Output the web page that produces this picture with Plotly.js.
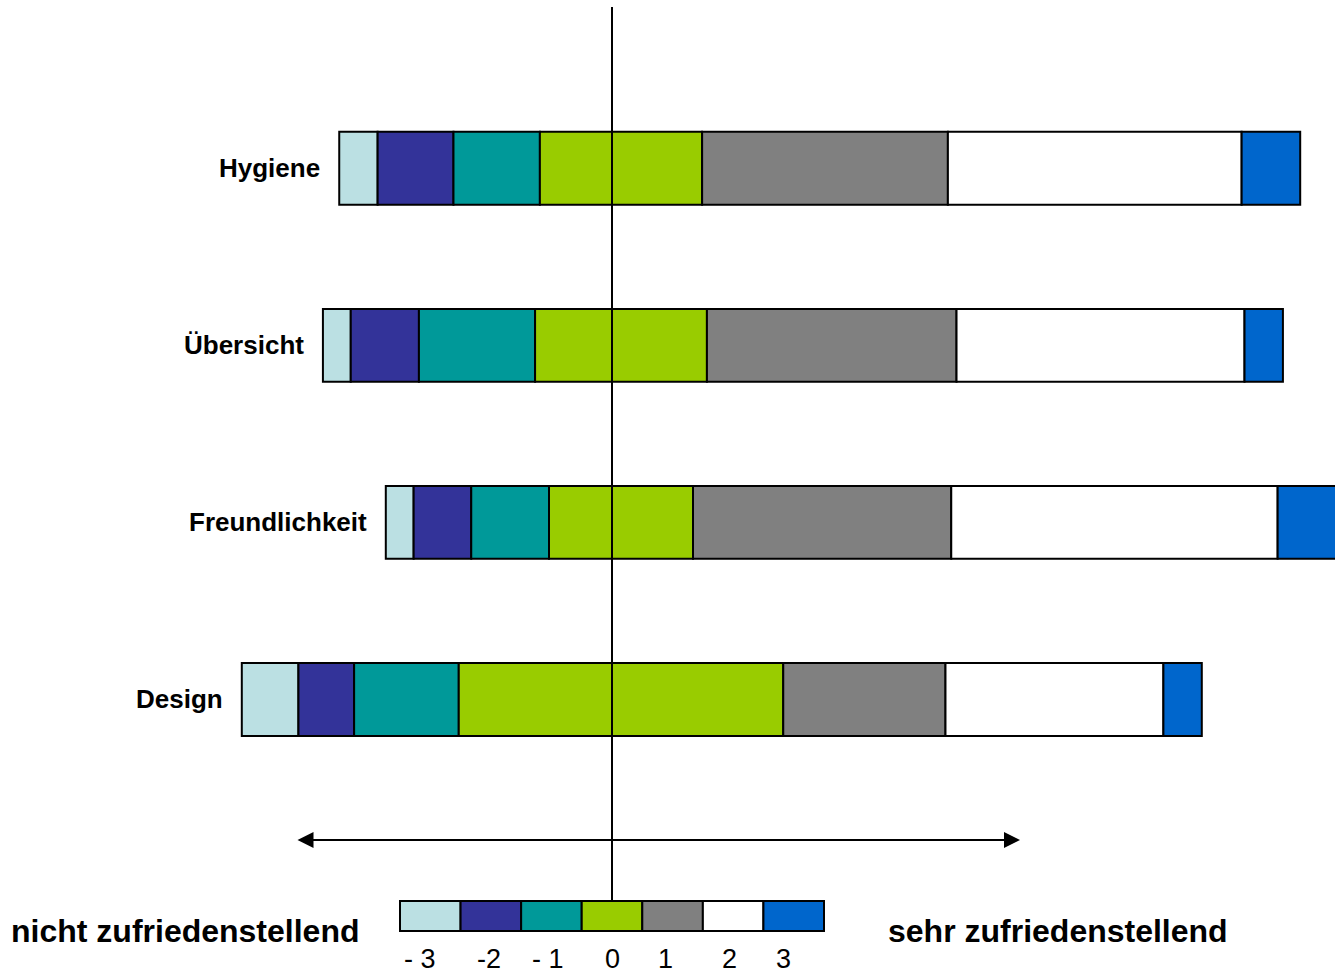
<!DOCTYPE html>
<html>
<head>
<meta charset="utf-8">
<script src="https://cdn.plot.ly/plotly-3.0.1.min.js"></script>
<style>html,body{margin:0;padding:0;background:#fff;}#chart{width:1335px;height:975px;}</style>
</head>
<body>
<div id="chart"></div>
<script>
// ---- data (percent of answers per rating level) ----
var categories = ["Hygiene", "Übersicht", "Freundlichkeit", "Design"];
var levels = ["- 3", "-2", "- 1", "0", "1", "2", "3"];
var valsMinus3 = [4.0, 2.9, 2.9, 5.9];
var valsMinus2 = [7.9, 7.1, 6.0, 5.8];
var valsMinus1 = [9.0, 12.1, 8.1, 10.9];
var valsZero   = [16.9, 17.9, 15.0, 33.8];
var valsPlus1  = [25.6, 26.0, 26.9, 16.9];
var valsPlus2  = [30.6, 30.0, 34.0, 22.7];
var valsPlus3  = [6.1, 4.0, 7.1, 4.0];
var leftLabel = "nicht zufriedenstellend";
var rightLabel = "sehr zufriedenstellend";

// ---- styles ----
var colors = ["#BBE0E3", "#333399", "#009999", "#99CC00", "#808080", "#FFFFFF", "#0066CC"];
var FONT = "Liberation Sans, Arial, Helvetica, sans-serif";
var W = 1335, H = 975;

var series = [valsMinus3, valsMinus2, valsMinus1, valsZero, valsPlus1, valsPlus2, valsPlus3];

// diverging start: negatives + half neutral to the left of zero
var starts = categories.map(function (c, i) {
  return -(valsMinus3[i] + valsMinus2[i] + valsMinus1[i] + valsZero[i] / 2);
});

var traces = [];
var cum = starts.slice();
series.forEach(function (vals, k) {
  traces.push({
    type: "bar",
    orientation: "h",
    y: categories,
    x: vals,
    base: cum.slice(),
    width: 0.412,
    name: levels[k],
    marker: {color: colors[k], line: {color: "#000", width: 2}},
    hoverinfo: "skip",
    showlegend: false
  });
  cum = cum.map(function (b, i) { return b + vals[i]; });
});

var shapes = [];
var annotations = [];

// category labels to the left of each bar
categories.forEach(function (c, i) {
  annotations.push({
    x: starts[i], y: c, xref: "x", yref: "y",
    text: "<b>" + c + "</b>", showarrow: false,
    xanchor: "right", yanchor: "middle", xshift: -17,
    font: {family: FONT, size: 26, color: "#000"}
  });
});

// vertical reference line
shapes.push({type: "line", xref: "paper", yref: "paper",
  x0: 612 / W, x1: 612 / W, y0: 1 - 7 / H, y1: 1 - 900 / H,
  line: {color: "#000", width: 2}, layer: "above"});

// colour scale legend
var boxL = 400, boxR = 824, boxT = 901, boxB = 931;
var bw = (boxR - boxL) / levels.length;
var labelX = [420, 489, 548, 612, 665, 729, 783];
levels.forEach(function (lv, k) {
  shapes.push({type: "rect", xref: "paper", yref: "paper",
    x0: (boxL + k * bw) / W, x1: (boxL + (k + 1) * bw) / W,
    y0: 1 - boxB / H, y1: 1 - boxT / H,
    fillcolor: colors[k], line: {color: "#000", width: 2}, layer: "above"});
  annotations.push({xref: "paper", yref: "paper", x: labelX[k] / W, y: 1 - 959 / H,
    text: lv, showarrow: false, xanchor: "center", yanchor: "middle", borderpad: 0,
    font: {family: FONT, size: 27, color: "#000"}});
});

// double arrow
annotations.push({xref: "paper", yref: "paper", x: 1020 / W, y: 1 - 840 / H,
  axref: "pixel", ayref: "pixel", ax: -(1020 - 296), ay: 0,
  text: "", showarrow: true, arrowside: "end+start",
  arrowhead: 2, startarrowhead: 2, arrowsize: 1.6, startarrowsize: 1.6,
  arrowwidth: 2, arrowcolor: "#000", standoff: 0, startstandoff: 0});

// end labels
annotations.push({xref: "paper", yref: "paper", x: 9 / W, y: 1 - 931 / H,
  text: "<b>" + leftLabel + "</b>", showarrow: false, xanchor: "left", yanchor: "middle",
  font: {family: FONT, size: 32, color: "#000"}});
annotations.push({xref: "paper", yref: "paper", x: 886 / W, y: 1 - 931 / H,
  text: "<b>" + rightLabel + "</b>", showarrow: false, xanchor: "left", yanchor: "middle",
  font: {family: FONT, size: 32, color: "#000"}});

var pxPerUnit = 9.6, zeroPx = 621;
var yPxPerCat = 177.05, firstCatPx = 168.3;
var yTop = (categories.length - 1) + firstCatPx / yPxPerCat;
var yBottom = yTop - H / yPxPerCat;

var layout = {
  width: W, height: H,
  margin: {l: 0, r: 0, t: 0, b: 0, pad: 0},
  paper_bgcolor: "#fff", plot_bgcolor: "#fff",
  barmode: "overlay",
  xaxis: {range: [-zeroPx / pxPerUnit, (W - zeroPx) / pxPerUnit], visible: false, fixedrange: true},
  yaxis: {type: "category", categoryorder: "array", categoryarray: categories.slice().reverse(),
    range: [yBottom, yTop], visible: false, fixedrange: true},
  shapes: shapes,
  annotations: annotations,
  showlegend: false
};

Plotly.newPlot("chart", traces, layout, {displayModeBar: false, staticPlot: true});
</script>
</body>
</html>
